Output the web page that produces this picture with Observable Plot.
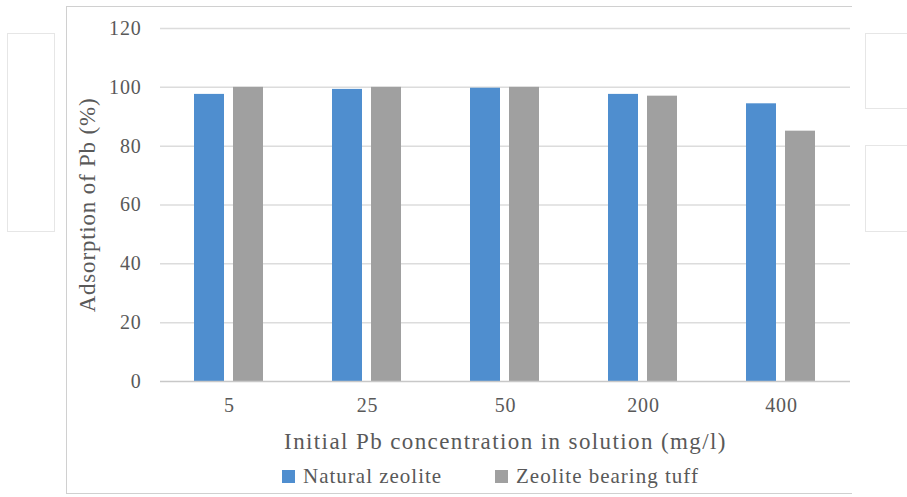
<!DOCTYPE html>
<html>
<head>
<meta charset="utf-8">
<script src="https://cdn.jsdelivr.net/npm/d3@7"></script>
<script src="https://cdn.jsdelivr.net/npm/@observablehq/plot@0.6"></script>
<style>
  html, body { margin: 0; padding: 0; background: #fff; }
  #wrap { position: relative; width: 907px; height: 497px; overflow: hidden; font-family: "Liberation Serif", serif; }
  #frame { position: absolute; left: 66px; top: 6px; width: 786px; height: 488px; border: 1.5px solid #d0d0d0; border-right: none; box-sizing: border-box; }
  .wm { position: absolute; border: 1.5px solid #e6e6e6; border-right: none; }
  #plot { position: absolute; left: 0; top: 0; }
  #legend { position: absolute; top: 464px; left: 0; width: 907px; font-size: 21px; letter-spacing: 1px; color: #595959; }
  .item { position: absolute; display: flex; align-items: center; }
  .sw { width: 13px; height: 13px; margin-right: 8px; }
</style>
</head>
<body>
<div id="wrap">
  <div class="wm" style="left:7px;top:33px;width:46px;height:197px;border-right:1.5px solid #e6e6e6;"></div>
  <div class="wm" style="left:865px;top:33px;width:50px;height:74px;"></div>
  <div class="wm" style="left:865px;top:145px;width:50px;height:85px;"></div>
  <div id="frame"></div>
  <div id="plot"></div>
  <div id="legend"></div>
</div>
<script>
const concentrations = ["5", "25", "50", "200", "400"];
const seriesNames = ["Natural zeolite", "Zeolite bearing tuff"];
const naturalZeolite = [97.6, 99.3, 99.7, 97.6, 94.4];
const zeoliteTuff = [100, 100, 100, 97.0, 85.1];
const colors = ["#4f8ecf", "#a0a0a0"];
const yTicks = [0, 20, 40, 60, 80, 100, 120];
const yLabel = "Adsorption of Pb (%)";
const xLabel = "Initial Pb concentration in solution (mg/l)";

const data = [];
concentrations.forEach((c, i) => {
  data.push({conc: c, series: seriesNames[0], value: naturalZeolite[i]});
  data.push({conc: c, series: seriesNames[1], value: zeoliteTuff[i]});
});

const chart = Plot.plot({
  width: 907,
  height: 455,
  marginLeft: 158,
  marginRight: 55,
  marginTop: 28,
  marginBottom: 74,
  style: {fontFamily: "Liberation Serif, serif", fontSize: "20px", color: "#595959", background: "transparent"},
  fx: {domain: concentrations, padding: 0, label: xLabel, axis: null},
  x: {domain: seriesNames, paddingInner: 0.23, paddingOuter: 0.88, axis: null},
  y: {domain: [0, 120], ticks: yTicks, label: null, axis: null},
  color: {domain: seriesNames, range: colors},
  marks: [
    Plot.ruleY(yTicks.filter(d => d > 0), {stroke: "#dcdcdc", strokeWidth: 1.5}),
    Plot.barY(data, {fx: "conc", x: "series", y: "value", fill: "series"}),
    Plot.ruleY([0], {stroke: "#c8c8c8", strokeWidth: 1.5}),
    Plot.axisY({ticks: yTicks, tickSize: 0, tickPadding: 19, fontSize: 20, label: yLabel, labelAnchor: "center", labelArrow: "none", labelOffset: 82}),
    Plot.axisFx({anchor: "bottom", tickSize: 0, tickPadding: 16, fontSize: 20, label: xLabel, labelAnchor: "center", labelArrow: "none", labelOffset: 67})
  ]
});
document.getElementById("plot").appendChild(chart);

// style text: wider tracking to mimic the original's Palatino-like face
d3.select(chart).selectAll("text").each(function() {
  const t = this.textContent;
  if (t === xLabel) d3.select(this).attr("font-size", "23px").attr("letter-spacing", "1.4px");
  else if (t === yLabel) d3.select(this).attr("font-size", "23px").attr("letter-spacing", "0.8px");
  else d3.select(this).attr("letter-spacing", "0.8px");
});

const legend = document.getElementById("legend");
const positions = [282, 495];
seriesNames.forEach((s, i) => {
  const it = document.createElement("div");
  it.className = "item";
  it.style.left = positions[i] + "px";
  const sw = document.createElement("div");
  sw.className = "sw";
  sw.style.background = colors[i];
  const tx = document.createElement("span");
  tx.textContent = s;
  it.appendChild(sw);
  it.appendChild(tx);
  legend.appendChild(it);
});
</script>
</body>
</html>
